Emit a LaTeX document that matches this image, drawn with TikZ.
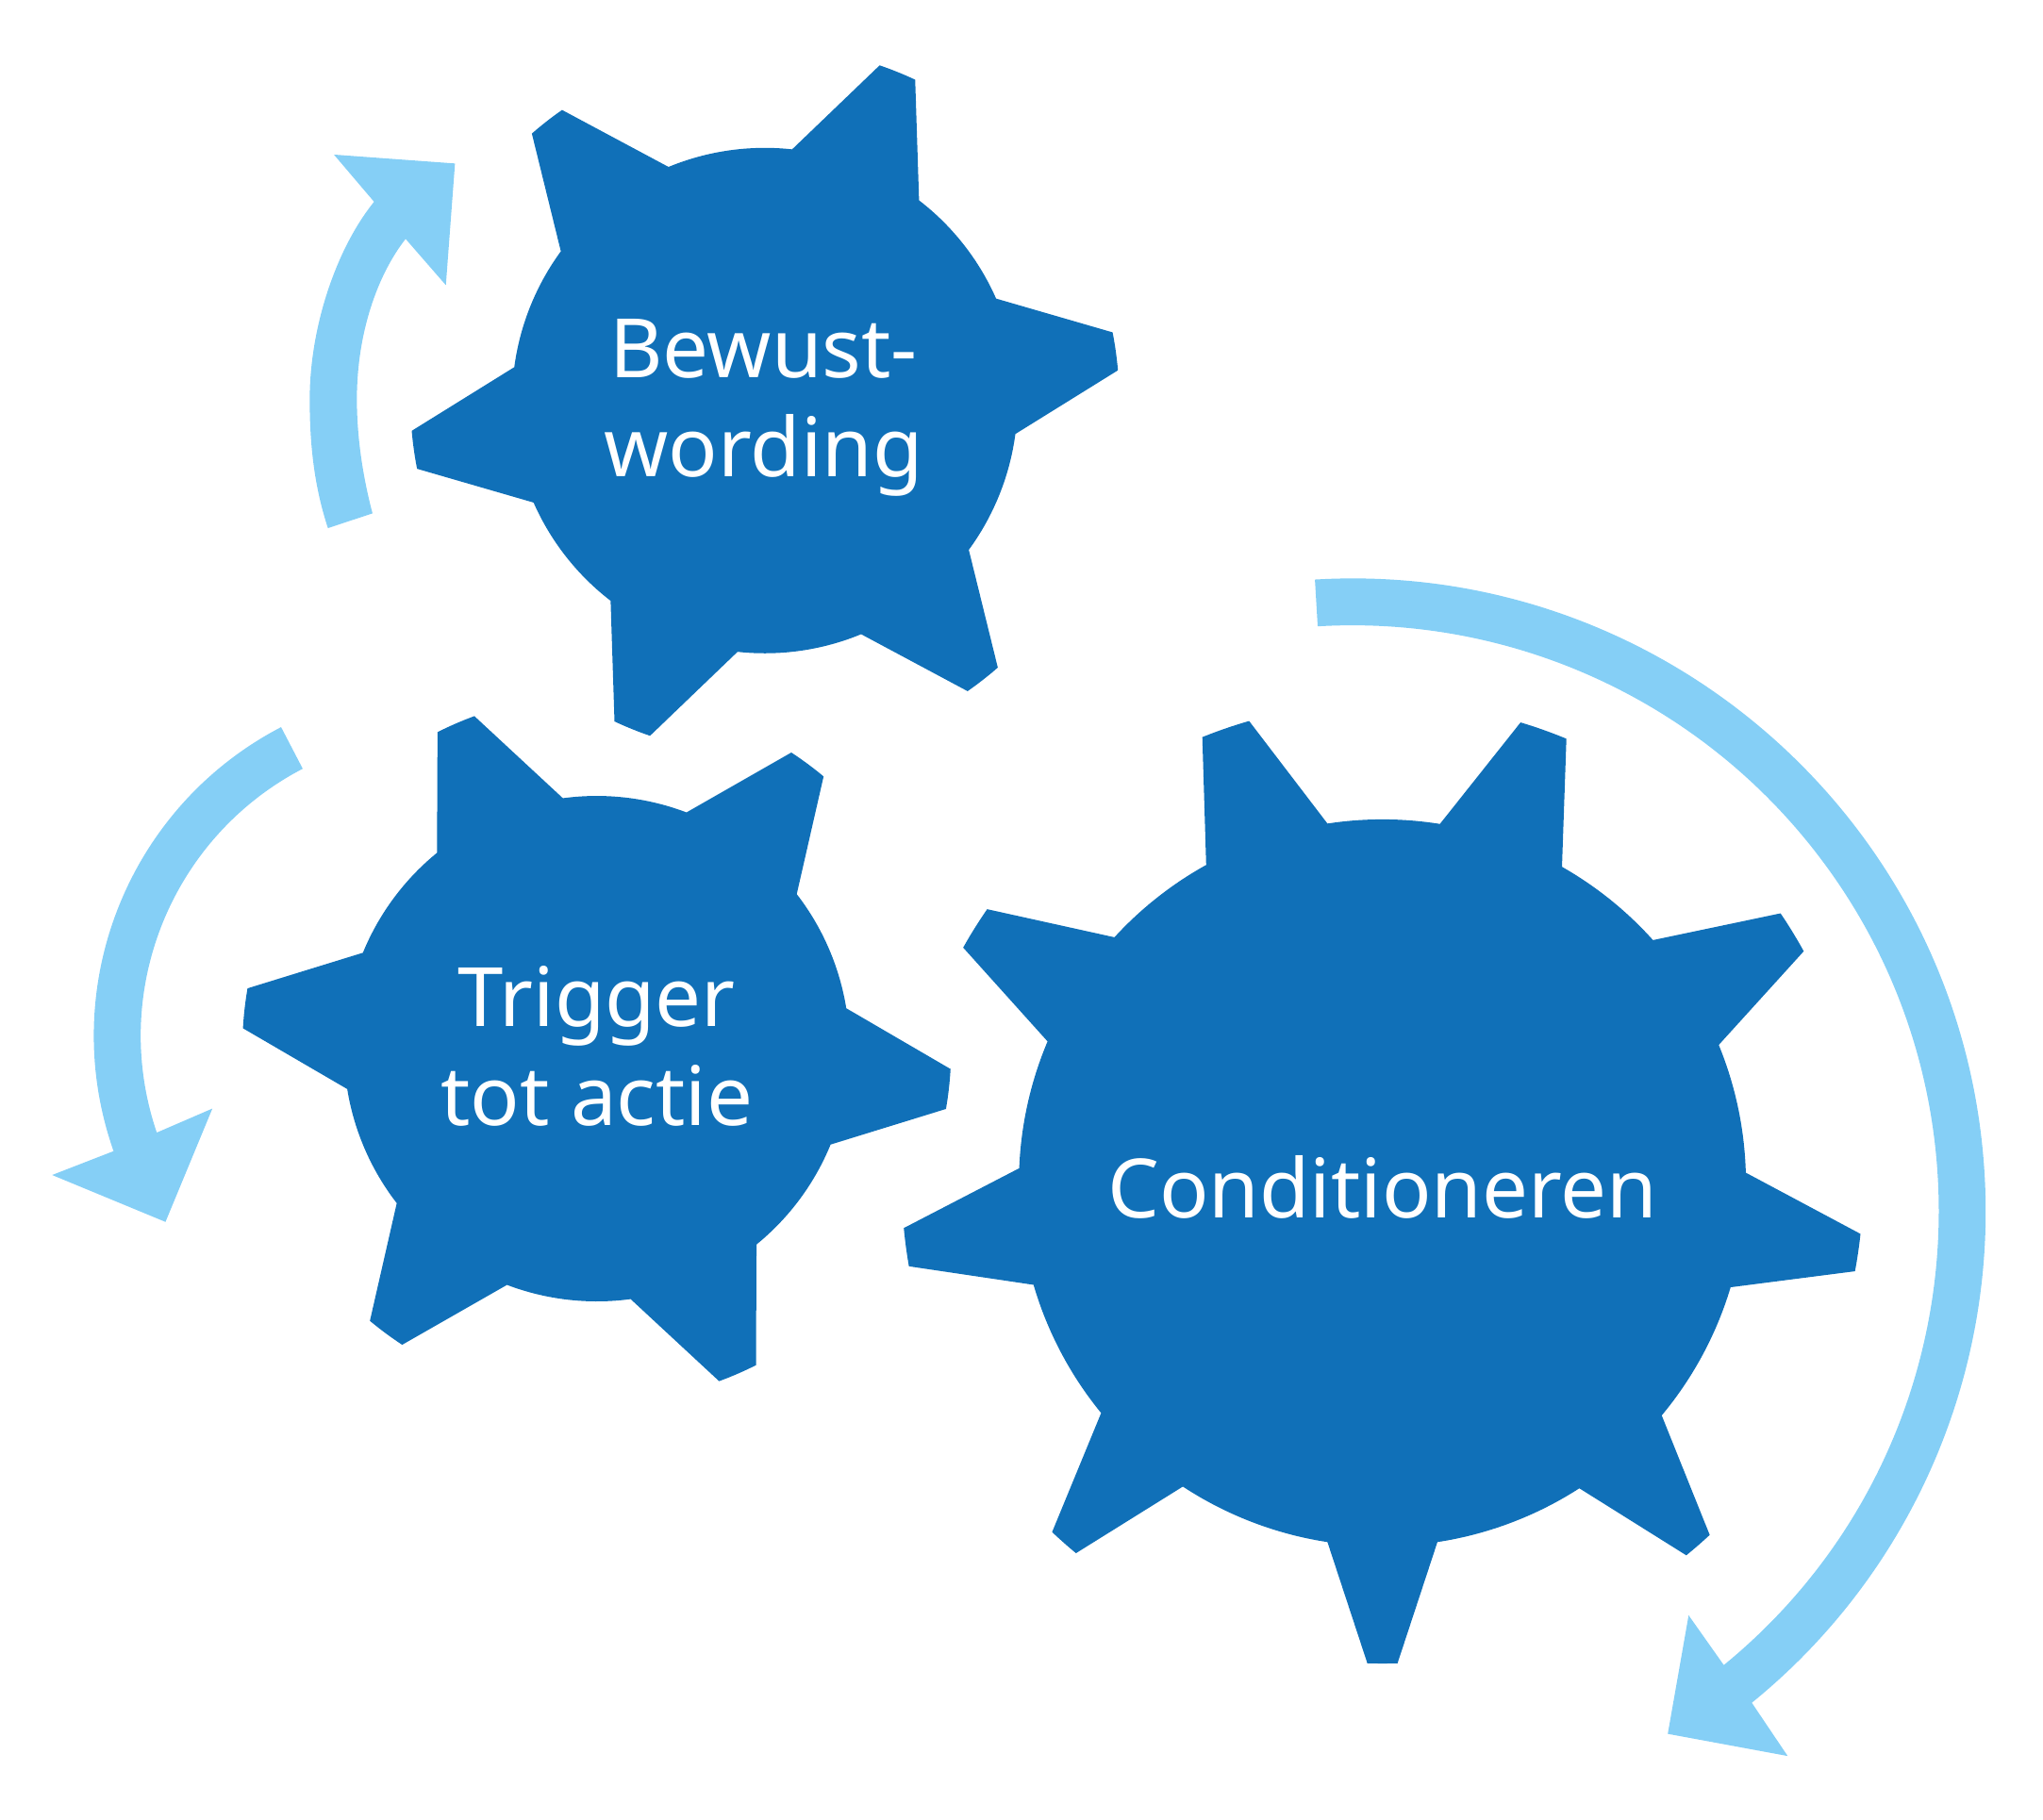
\documentclass[tikz,border=0pt]{standalone}
\usepackage{fontspec}
\setsansfont{Noto Sans}
\usepackage{xcolor}
\usepackage{tikz}
\definecolor{gearblue}{HTML}{1070B8}
\definecolor{arrowblue}{HTML}{85CFF6}
% start angle, inner radius, outer radius, teeth
\newcommand{\gearbody}[4]{%
  (#1:#2) \foreach \oa/\ob/\ib/\ic in {#4} {
    -- (\oa:#3) arc[start angle=\oa,end angle=\ob,radius=#3]
    -- (\ib:#2) arc[start angle=\ib,end angle=\ic,radius=#2]
  } -- cycle}
\begin{document}
\begin{tikzpicture}[
  font=\sffamily,
  gear/.style={fill=gearblue},
  blockarrow/.style={fill=arrowblue},
  label/.style={text=white,align=center,font=\sffamily\fontsize{17.9}{21.6}\selectfont}]
  \useasboundingbox (0,0) rectangle (15.68,-13.97);
  \coordinate (bewustc) at (5.87,-3.075);
  \coordinate (triggerc) at (4.58,-8.05);
  \coordinate (condc) at (10.61,-9.08);
  \coordinate (rightc) at (10.38,-9.30);
  \coordinate (leftc) at (3.39,-7.95);
  % gears
  \fill[gear,shift={(bewustc)}] \gearbody{52.4}{1.94}{2.72}{64.9/71.1/83.8/112.4,124.9/131.1/143.8/172.4,184.9/191.1/203.8/232.4,244.9/251.1/263.8/292.4,304.9/311.1/323.8/352.4,364.9/371.1/383.8/412.4};
  \fill[gear,shift={(triggerc)}] \gearbody{97.7}{1.94}{2.72}{110.2/116.7/129.2/157.7,170.2/176.7/189.2/217.7,230.2/236.7/249.2/277.7,290.2/296.7/309.2/337.7,350.2/356.7/369.2/397.7,410.2/416.7/429.2/457.7};
  \fill[gear,shift={(condc)}] \gearbody{22.3}{2.79}{3.69}{28.8/34.1/41.9/60.4,67.5/73.3/80.9/98.7,106.1/112/119/137.5,145.3/150.7/157.1/177.7,185.4/190/196.3/219.3,226.6/230.4/236.7/261.3,268.2/271.8/278.7/302.8,309.2/312.9/320.2/343.3,349.4/353.9/361.6/382.3};
  % arrows
  \fill[blockarrow,shift={(rightc)}] (93.4:4.86) arc[start angle=93.4,end angle=-50.9,radius=4.86]
    -- (3.34,-4.18) -- (2.42,-4.01) -- (2.58,-3.10) -- (-50.7:4.50)
    arc[start angle=-50.7,end angle=93.4,radius=4.50] -- cycle;
  \fill[blockarrow,shift={(leftc)}] (117.5:2.67) arc[start angle=117.5,end angle=199.4,radius=2.67]
    -- (-2.99,-1.07) -- (-2.12,-1.43) -- (-1.76,-0.56) -- (198.8:2.31)
    arc[start angle=198.8,end angle=117.5,radius=2.31] -- cycle;
  \fill[blockarrow] (2.517,-4.054) .. controls (2.408,-3.723) and (2.377,-3.402) .. (2.377,-3.065)
    .. controls (2.377,-2.510) and (2.582,-1.906) .. (2.871,-1.549)
    -- (2.563,-1.187) -- (3.492,-1.255) -- (3.422,-2.189) -- (3.113,-1.834)
    .. controls (2.896,-2.111) and (2.739,-2.558) .. (2.739,-3.065)
    .. controls (2.739,-3.366) and (2.787,-3.668) .. (2.859,-3.941) -- cycle;
  % labels
  \node[label] (bewust) at (5.86,-3.13) {Bewust-\\wording};
  \node[label] (trigger) at (4.58,-8.03) {Trigger\\tot actie};
  \node[label] (cond) at (10.61,-9.11) {Conditioneren};
\end{tikzpicture}
\end{document}
